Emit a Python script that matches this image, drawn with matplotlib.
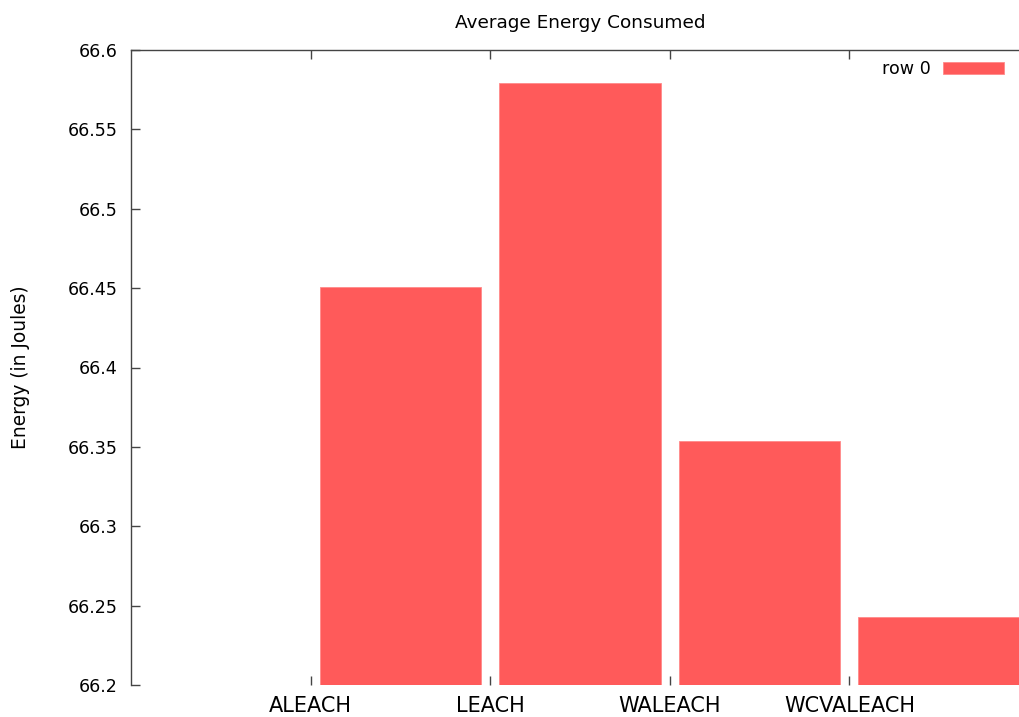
import matplotlib
matplotlib.use('Agg')
import matplotlib.pyplot as plt
import numpy as np

# 数据
protocols = ['ALEACH', 'LEACH', 'WALEACH', 'WCVALEACH']
energy = [66.4505, 66.579, 66.3537, 66.243]
series_name = 'row 0'

plt.rcParams['font.family'] = 'DejaVu Sans'
plt.rcParams['font.size'] = 12.6

W, H = 1020, 717
fig = plt.figure(figsize=(W / 100, H / 100), dpi=100)
# 坐标区右边界伸出画布一点
ax = fig.add_axes([131 / W, 32 / H, 898 / W, 635 / H])

axis_color = '#444444'
bar_color = '#ff5a5a'

index = np.arange(len(protocols))
ax.bar(index + 0.5, np.array(energy) - 66.2, 0.9, bottom=66.2,
       color=bar_color, edgecolor='#ff8a8a', linewidth=0.6, label=series_name)

ax.set_xlim(-1, 4)
ax.set_ylim(66.2, 66.6)
ax.set_yticks(np.arange(66.2, 66.601, 0.05))
ax.set_yticklabels(['66.2', '66.25', '66.3', '66.35', '66.4', '66.45', '66.5', '66.55', '66.6'])
ax.set_xticks(index)
ax.set_xticklabels(protocols, fontsize=15)

for s in ax.spines.values():
    s.set_color(axis_color)
    s.set_linewidth(1.0)
ax.spines['bottom'].set_visible(False)

ax.tick_params(axis='both', direction='in', length=6.5, width=1.0, color=axis_color,
               labelcolor='black')
ax.tick_params(axis='y', right=True, pad=9.5)
ax.tick_params(axis='x', top=True, pad=8)

ax.set_title('Average Energy Consumed', fontsize=13.3, pad=16)
fig.text(20.5 / W, 1 - 367.5 / H, 'Energy (in Joules)', rotation=90,
         ha='center', va='center', fontsize=13.4)

ax.legend(loc='upper right', bbox_to_anchor=(1004 / W, 1 - 60 / H),
          bbox_transform=fig.transFigure, frameon=False, markerfirst=False,
          handlelength=3.5, handleheight=0.63, handletextpad=0.7,
          borderpad=0, borderaxespad=0, fontsize=12.6)

plt.savefig('out.png', dpi=100)
